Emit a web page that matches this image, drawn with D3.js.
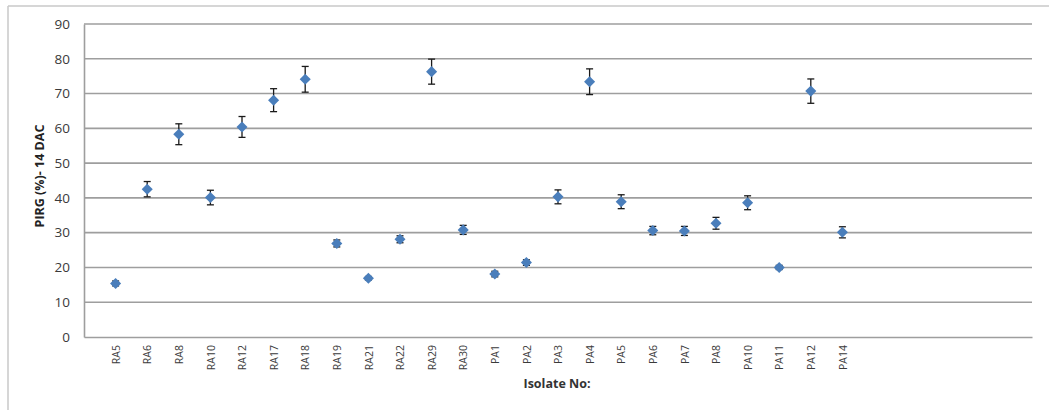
<!DOCTYPE html>
<html><head><meta charset="utf-8">
<script src="https://cdn.jsdelivr.net/npm/d3@7"></script>
<style>body{margin:0;background:#fff}svg{display:block}</style>
</head><body>
<svg id="c" width="1049" height="410"></svg>
<script>
const categories = ["RA5","RA6","RA8","RA10","RA12","RA17","RA18","RA19","RA21","RA22","RA29","RA30","PA1","PA2","PA3","PA4","PA5","PA6","PA7","PA8","PA10","PA11","PA12","PA14"];
const values = [15.4,42.5,58.3,40.1,60.4,68.1,74.1,26.9,16.9,28.1,76.3,30.8,18.1,21.4,40.3,73.4,38.9,30.6,30.5,32.7,38.6,20.0,70.7,30.1];
const errors = [0.7,2.2,3.0,2.1,3.0,3.3,3.7,1.0,0.5,1.0,3.6,1.3,0.8,0.8,2.0,3.7,2.0,1.2,1.3,1.7,2.0,0.6,3.5,1.6];
const yTicks = [0,10,20,30,40,50,60,70,80,90];

const svg = d3.select("#c");
const L = 84, R = 1032, T = 24, B = 337;
const x = d3.scaleLinear().domain([0,30]).range([L,R]);
const y = d3.scaleLinear().domain([0,90]).range([B,T]);

// outer frame
svg.append("line").attr("x1",8).attr("x2",1049).attr("y1",6).attr("y2",6).attr("stroke","#c8c8c8").attr("stroke-width",1.5);
svg.append("line").attr("x1",8).attr("x2",8).attr("y1",6).attr("y2",410).attr("stroke","#c8c8c8").attr("stroke-width",1.5);

// gridlines
svg.append("g").selectAll("line").data(yTicks.filter(d=>d>0)).join("line")
  .attr("x1",L).attr("x2",R).attr("y1",d=>y(d)).attr("y2",d=>y(d))
  .attr("stroke","#9e9e9e").attr("stroke-width",1.6);

// y axis
const ya = svg.append("g").attr("transform",`translate(${L},0)`)
  .call(d3.axisLeft(y).tickValues(yTicks).tickSize(0).tickPadding(14));
ya.select(".domain").attr("stroke","#9e9e9e").attr("stroke-width",1.6);
ya.selectAll("text").attr("font-family","Open Sans, sans-serif").attr("font-size",13.5).attr("fill","#3a3a3a");

// x axis
const xa = svg.append("g").attr("transform",`translate(0,${B})`)
  .call(d3.axisBottom(x).tickValues(d3.range(1,categories.length+1)).tickFormat(d=>categories[d-1]).tickSize(0));
xa.select(".domain").attr("stroke","#9e9e9e").attr("stroke-width",1.6);
xa.selectAll("text").attr("font-family","Open Sans, sans-serif").attr("font-size",10.5).attr("fill","#3a3a3a")
  .attr("transform","rotate(-90)").attr("text-anchor","end").attr("dy","0.35em").attr("x",-8).attr("y",0);

// error bars
const eg = svg.append("g").attr("stroke","#1a1a1a").attr("stroke-width",1.3);
categories.forEach((c,i)=>{
  const cx = x(i+1), y1 = y(values[i]+errors[i]), y2 = y(values[i]-errors[i]);
  eg.append("line").attr("x1",cx).attr("x2",cx).attr("y1",y1).attr("y2",y2);
  eg.append("line").attr("x1",cx-3.5).attr("x2",cx+3.5).attr("y1",y1).attr("y2",y1);
  eg.append("line").attr("x1",cx-3.5).attr("x2",cx+3.5).attr("y1",y2).attr("y2",y2);
});

// markers
svg.append("g").selectAll("path").data(values).join("path")
  .attr("d",d3.symbol().type(d3.symbolDiamond2).size(78))
  .attr("transform",(d,i)=>`translate(${x(i+1)},${y(d)})`)
  .attr("fill","#4a7ebb");

// titles
svg.append("text").attr("x",557).attr("y",388).attr("text-anchor","middle")
  .attr("font-family","Open Sans, sans-serif").attr("font-weight","bold").attr("font-size",12.5).attr("fill","#333")
  .text("Isolate No:");
svg.append("text").attr("transform","translate(44,176) rotate(-90)").attr("text-anchor","middle")
  .attr("font-family","Open Sans, sans-serif").attr("font-weight","bold").attr("font-size",12.5).attr("fill","#222")
  .text("PIRG  (%)- 14 DAC");
</script>
</body></html>
